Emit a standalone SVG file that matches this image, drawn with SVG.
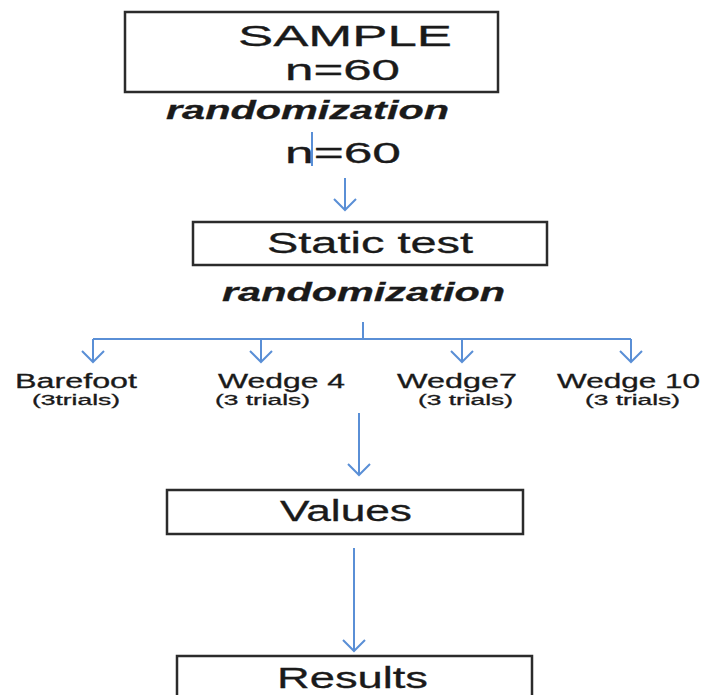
<svg xmlns="http://www.w3.org/2000/svg" width="702" height="695" viewBox="0 0 702 695">
  <style>
    .box { fill: #ffffff; stroke: #2b2b2b; stroke-width: 2.5; }
    .t { font-family: "Liberation Sans", Arial, sans-serif; fill: #1a1a1a; stroke: #1a1a1a; stroke-width: 0.3; }
    .big { font-size: 29px; }
    .rand { font-size: 26px; font-weight: bold; font-style: italic; }
    .lbl { font-size: 20px; }
    .sub { font-size: 14px; }
    .link { stroke: #5a8fd6; stroke-width: 2; fill: none; }
    .arrow { marker-end: url(#head); }
  </style>
  <defs>
    <!-- open V arrowhead, tip at the line end -->
    <marker id="head" markerUnits="userSpaceOnUse" viewBox="-13 -12 15 24" refX="0" refY="0" markerWidth="15" markerHeight="24" orient="auto" overflow="visible">
      <path d="M-11,-11 L0,0 L-11,11" fill="none" stroke="#5a8fd6" stroke-width="2"/>
    </marker>
  </defs>
  <rect width="702" height="695" fill="#ffffff"/>

  <!-- connectors -->
  <g id="connectors">
    <line class="link" x1="312" y1="132" x2="312" y2="166"/>
    <line class="link arrow" x1="345" y1="178" x2="345" y2="210"/>
    <line class="link" x1="363" y1="322" x2="363" y2="339"/>
    <line class="link" x1="93" y1="339" x2="631" y2="339"/>
    <line class="link arrow" x1="93" y1="339" x2="93" y2="362"/>
    <line class="link arrow" x1="261" y1="339" x2="261" y2="362"/>
    <line class="link arrow" x1="462" y1="339" x2="462" y2="362"/>
    <line class="link arrow" x1="631" y1="339" x2="631" y2="362"/>
    <line class="link arrow" x1="359" y1="413" x2="359" y2="475"/>
    <line class="link arrow" x1="354" y1="548" x2="354" y2="651"/>
  </g>

  <g id="sample">
    <rect class="box" x="125" y="12" width="373" height="80"/>
    <text class="t big" x="238" y="46" textLength="214" lengthAdjust="spacingAndGlyphs">SAMPLE</text>
    <text class="t big" x="285" y="80" textLength="115" lengthAdjust="spacingAndGlyphs">n=60</text>
  </g>

  <g id="randomization-1">
    <text class="t rand" x="166" y="119" textLength="283" lengthAdjust="spacingAndGlyphs">randomization</text>
  </g>

  <g id="n60">
    <text class="t big" x="285" y="163" textLength="116" lengthAdjust="spacingAndGlyphs">n=60</text>
  </g>

  <g id="static-test">
    <rect class="box" x="193" y="222" width="354" height="43"/>
    <text class="t big" x="267" y="253" textLength="206" lengthAdjust="spacingAndGlyphs">Static test</text>
  </g>

  <g id="randomization-2">
    <text class="t rand" x="222" y="301" textLength="283" lengthAdjust="spacingAndGlyphs">randomization</text>
  </g>

  <g id="barefoot">
    <text class="t lbl" x="15" y="388" textLength="122" lengthAdjust="spacingAndGlyphs">Barefoot</text>
    <text class="t sub" x="32" y="405" textLength="88" lengthAdjust="spacingAndGlyphs">(3trials)</text>
  </g>

  <g id="wedge-4">
    <text class="t lbl" x="218" y="388" textLength="127" lengthAdjust="spacingAndGlyphs">Wedge 4</text>
    <text class="t sub" x="215" y="405" textLength="95" lengthAdjust="spacingAndGlyphs">(3 trials)</text>
  </g>

  <g id="wedge-7">
    <text class="t lbl" x="397" y="388" textLength="120" lengthAdjust="spacingAndGlyphs">Wedge7</text>
    <text class="t sub" x="418" y="405" textLength="95" lengthAdjust="spacingAndGlyphs">(3 trials)</text>
  </g>

  <g id="wedge-10">
    <text class="t lbl" x="557" y="388" textLength="143" lengthAdjust="spacingAndGlyphs">Wedge 10</text>
    <text class="t sub" x="585" y="405" textLength="95" lengthAdjust="spacingAndGlyphs">(3 trials)</text>
  </g>

  <g id="values">
    <rect class="box" x="167" y="490" width="356" height="44"/>
    <text class="t big" x="280" y="521" textLength="132" lengthAdjust="spacingAndGlyphs">Values</text>
  </g>

  <g id="results">
    <rect class="box" x="177" y="656" width="355" height="50"/>
    <text class="t big" x="277" y="688" textLength="151" lengthAdjust="spacingAndGlyphs">Results</text>
  </g>
</svg>
